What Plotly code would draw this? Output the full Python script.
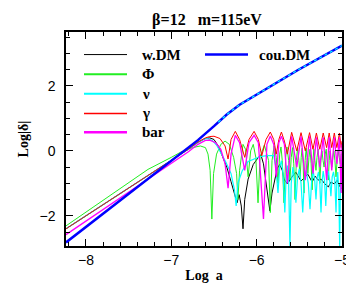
import plotly.graph_objects as go

# ---------------- data (log a, log|delta|) ----------------
x_wdm = [-8.234, -7.273, -6.80, -6.688, -6.60, -6.55, -6.50, -6.45, -6.40, -6.35, -6.30, -6.26, -6.23,
         -6.205, -6.18, -6.16, -6.14, -6.10, -6.04, -5.98, -5.95, -5.92, -5.89, -5.865, -5.845, -5.82,
         -5.79, -5.76, -5.73, -5.70, -5.68, -5.64, -5.58, -5.54, -5.48, -5.43, -5.40, -5.35, -5.315,
         -5.28, -5.245, -5.20, -5.16, -5.13, -5.09, -5.055, -5.03, -5.0]
y_wdm = [-2.40, -0.77, 0.05, 0.26, 0.38, 0.40, 0.35, 0.15, -0.15, -0.5, -0.95, -1.3, -1.6,
         -1.35, -1.7, -2.4, -1.5, -0.87, -0.42, -0.2, -0.12, -0.4, -1.0, -1.5, -1.85, -1.3,
         -0.87, -0.55, -0.42, -0.6, -0.87, -1.02, -0.78, -0.66, -0.93, -0.78, -0.72, -0.96, -0.78,
         -0.9, -0.87, -1.02, -1.11, -0.96, -1.02, -0.9, -1.08, -1.17]

x_phi = [-8.234, -7.273, -7.0, -6.89, -6.75, -6.66, -6.60, -6.57, -6.545, -6.525, -6.505, -6.47,
         -6.42, -6.37, -6.32, -6.27, -6.235, -6.22, -6.20, -6.16, -6.13, -6.10, -6.07, -6.04,
         -6.01, -5.984, -5.96, -5.91, -5.86, -5.84, -5.82, -5.795, -5.77, -5.75, -5.73, -5.715,
         -5.70, -5.68, -5.66, -5.645, -5.625, -5.61, -5.595, -5.58, -5.565, -5.55, -5.535, -5.52,
         -5.505, -5.49, -5.478, -5.467, -5.455, -5.445, -5.432, -5.42, -5.41, -5.40, -5.387,
         -5.375, -5.362, -5.35, -5.34, -5.33, -5.317, -5.305, -5.293, -5.28, -5.27, -5.26, -5.247,
         -5.235, -5.222, -5.21, -5.197, -5.185, -5.172, -5.16, -5.15, -5.14, -5.13, -5.12, -5.108,
         -5.095, -5.083, -5.07, -5.058, -5.045, -5.032, -5.02, -5.01, -5.0]
y_phi = [-2.31, -0.57, -0.2, -0.04, 0.10, 0.15, 0.10, -0.10, -0.6, -2.1, -0.7, -0.1,
         0.2, 0.30, 0.2, -0.2, -0.7, -1.5, -0.6, 0.2, 0.05, -0.8, 0.0, 0.2,
         -0.2, -1.6, -0.2, 0.18, -0.3, -1.9, -0.3, 0.15, -0.2, -1.0, -0.1, 0.12,
         -0.3, -1.6, -0.2, 0.12, -0.3, -0.9, -0.2, 0.1, -0.4, -1.5, -0.3, 0.1,
         -0.3, -0.8, -0.2, 0.08, -0.4, -1.3, -0.3, 0.08, -0.2, -0.7, -0.2,
         0.05, -0.4, -1.2, -0.3, 0.05, -0.3, -0.6, -0.2, 0.05, -0.3, -1.0, -0.3,
         0.0, -0.3, -0.5, -0.1, 0.05, -0.4, -0.9, -0.3, 0.0, -0.3, -0.5, -0.2,
         0.0, -0.3, -0.8, -0.3, 0.0, -0.2, -0.4, -0.1, -0.1]

x_nu = [-8.234, -7.273, -6.80, -6.688, -6.62, -6.58, -6.52, -6.47, -6.42, -6.36, -6.30, -6.26,
        -6.24, -6.22, -6.17, -6.10, -6.0, -5.96, -5.88, -5.80, -5.775, -5.75, -5.73, -5.71,
        -5.69, -5.67, -5.655, -5.64, -5.625, -5.61, -5.595, -5.575, -5.555, -5.54, -5.52,
        -5.50, -5.48, -5.46, -5.44, -5.42, -5.395, -5.375, -5.355, -5.34, -5.32, -5.305,
        -5.29, -5.275, -5.26, -5.246, -5.232, -5.22, -5.205, -5.19, -5.175, -5.16, -5.145,
        -5.13, -5.115, -5.10, -5.085, -5.07, -5.06, -5.05, -5.038, -5.027, -5.018, -5.01, -5.0]
y_nu = [-2.40, -0.77, 0.05, 0.26, 0.36, 0.38, 0.32, 0.18, -0.05, -0.35, -0.7, -1.2,
        -1.7, -1.0, -0.62, -0.33, -0.22, -0.18, -0.15, -0.15, -0.5, -1.3, -0.5, -0.3,
        -0.7, -1.9, -0.8, -0.45, -1.0, -2.95, -1.0, -0.5, -0.9, -1.6, -0.8,
        -0.55, -1.0, -1.9, -0.9, -0.6, -1.0, -1.8, -0.9, -0.6, -0.9, -1.5,
        -0.8, -0.65, -1.0, -1.9, -0.9, -0.62, -0.9, -1.7, -0.8, -0.62, -0.9,
        -1.4, -0.8, -0.65, -0.9, -1.9, -0.9, -0.65, -1.2, -3.0, -1.0, -0.7, -0.9]

x_gam = [-8.234, -7.273, -6.80, -6.688, -6.60, -6.55, -6.50, -6.43, -6.37, -6.335, -6.30, -6.25,
         -6.20, -6.14, -6.09, -6.03, -5.98, -5.94, -5.89, -5.84, -5.80, -5.77, -5.74, -5.71,
         -5.675, -5.64, -5.59, -5.53, -5.48, -5.43, -5.38, -5.34, -5.30, -5.26, -5.22, -5.18,
         -5.15, -5.12, -5.09, -5.06, -5.03, -5.01, -5.0]
y_gam = [-2.40, -0.77, 0.05, 0.27, 0.40, 0.44, 0.45, 0.38, 0.15, -0.25, 0.35, 0.60,
         0.35, -0.2, 0.35, 0.60, 0.35, -0.15, 0.35, 0.58, 0.35, -0.1, 0.35, 0.58,
         0.3, -0.1, 0.57, 0.0, 0.56, 0.0, 0.56, 0.05, 0.55, 0.05, 0.55, 0.1,
         0.55, 0.1, 0.55, 0.1, 0.55, 0.1, 0.3]

x_bar = [-8.234, -7.273, -6.80, -6.688, -6.60, -6.55, -6.48, -6.42, -6.37, -6.335, -6.30, -6.25,
         -6.20, -6.14, -6.09, -6.03, -5.98, -5.92, -5.88, -5.84, -5.80, -5.77, -5.74, -5.71,
         -5.675, -5.64, -5.59, -5.53, -5.48, -5.43, -5.38, -5.34, -5.30, -5.26, -5.22, -5.18,
         -5.15, -5.12, -5.09, -5.06, -5.03, -5.01, -5.0]
y_bar = [-2.58, -0.87, -0.03, 0.20, 0.32, 0.33, 0.25, 0.05, -0.4, -1.15, -0.1, 0.48,
         0.25, -0.6, 0.25, 0.48, 0.25, -2.1, 0.2, 0.46, 0.2, -0.8, 0.25, 0.45,
         0.2, -1.0, 0.45, -0.5, 0.45, -0.9, 0.45, -0.7, 0.42, -0.5, 0.42, -0.9,
         0.42, -0.6, 0.42, -0.4, 0.42, -1.3, 0.2]

x_cdm = [-8.234, -6.688, -6.50, -6.35, -6.20, -5.516, -5.0]
y_cdm = [-2.82, 0.33, 0.76, 1.12, 1.42, 2.49, 3.24]

x_cdm_dot = [-6.45, -6.35, -6.20, -5.516, -5.0]
y_cdm_dot = [0.88, 1.12, 1.42, 2.49, 3.24]

x_ticks = [-8, -7, -6, -5]
x_ticktext = ["\u22128", "\u22127", "\u22126", "\u22125"]
y_ticks = [-2, 0, 2]
y_ticktext = ["\u22122", "0", "2"]

series = [
    ("w.DM", x_wdm, y_wdm, "#000000", 1.0),
    ("\u03a6", x_phi, y_phi, "#22ee22", 1.0),
    ("\u03bd", x_nu, y_nu, "#00ffff", 1.2),
    ("\u03b3", x_gam, y_gam, "#ff0000", 1.0),
    ("bar", x_bar, y_bar, "#ff00ff", 1.3),
]

fig = go.Figure()
for name, xs, ys, col, w in series:
    fig.add_trace(go.Scatter(x=xs, y=ys, mode="lines", name=name,
                             line=dict(color=col, width=w), showlegend=False))
fig.add_trace(go.Scatter(x=x_cdm, y=y_cdm, mode="lines", name="cou.DM",
                         line=dict(color="#0000ff", width=2.5), showlegend=False))
fig.add_trace(go.Scatter(x=x_cdm_dot, y=y_cdm_dot, mode="lines", showlegend=False,
                         line=dict(color="#00ffff", width=1.2, dash="dot")))

# ---------------- manual legend (paper coords) ----------------
L, T, PW, PH = 58, 24, 276, 218
def px(p):
    return (p - L) / PW
def py(p):
    return (T + PH - p) / PH

legend_font = dict(family="Liberation Serif", size=15, color="black")
rows = [47, 67, 87, 107, 126]
leg_widths = [1.0, 2.0, 2.0, 1.5, 2.5]
for (name, _, _, col, _), yy, lw in zip(series, rows, leg_widths):
    fig.add_shape(type="line", xref="paper", yref="paper", x0=px(76), x1=px(119),
                  y0=py(yy), y1=py(yy), line=dict(color=col, width=lw))
    fig.add_annotation(xref="paper", yref="paper", x=px(132), y=py(yy), text="<b>%s</b>" % name,
                       showarrow=False, xanchor="left", yanchor="middle", font=legend_font)
fig.add_shape(type="line", xref="paper", yref="paper", x0=px(197), x1=px(240),
              y0=py(47), y1=py(47), line=dict(color="#0000ff", width=2.5))
fig.add_annotation(xref="paper", yref="paper", x=px(249), y=py(47), text="<b>cou.DM</b>",
                   showarrow=False, xanchor="left", yanchor="middle", font=legend_font)

axis_common = dict(showline=True, linecolor="black", linewidth=1.5, mirror="allticks",
                   ticks="inside", ticklen=7, tickwidth=1, tickcolor="black",
                   showgrid=False, zeroline=False,
                   tickfont=dict(family="Liberation Sans", size=14, color="black"))

fig.update_layout(
    width=354, height=285,
    margin=dict(l=L, r=354 - L - PW, t=T, b=285 - T - PH),
    paper_bgcolor="white", plot_bgcolor="white",
    title=dict(text="<b>\u03b2=12   m=115eV</b>", x=px(199), xref="paper", xanchor="center",
               y=1 - 11 / 285, yanchor="middle",
               font=dict(family="Liberation Serif", size=16, color="black")),
    xaxis=dict(range=[-8.234, -5.0], tickvals=x_ticks, ticktext=x_ticktext,
               minor=dict(dtick=0.2, tick0=-8, ticklen=4, ticks="inside", tickcolor="black"),
               title=dict(text="<b>Log  a</b>", standoff=4,
                          font=dict(family="Liberation Serif", size=14, color="black")),
               **axis_common),
    yaxis=dict(range=[-2.93, 3.66], tickvals=y_ticks, ticktext=y_ticktext, ticklabelstandoff=6,
               minor=dict(dtick=0.5, tick0=0, ticklen=4, ticks="inside", tickcolor="black"),
               title=dict(text="<b>Log|\u03b4|</b>", standoff=8,
                          font=dict(family="Liberation Serif", size=14, color="black")),
               **axis_common),
)

fig.write_html("out.html")
